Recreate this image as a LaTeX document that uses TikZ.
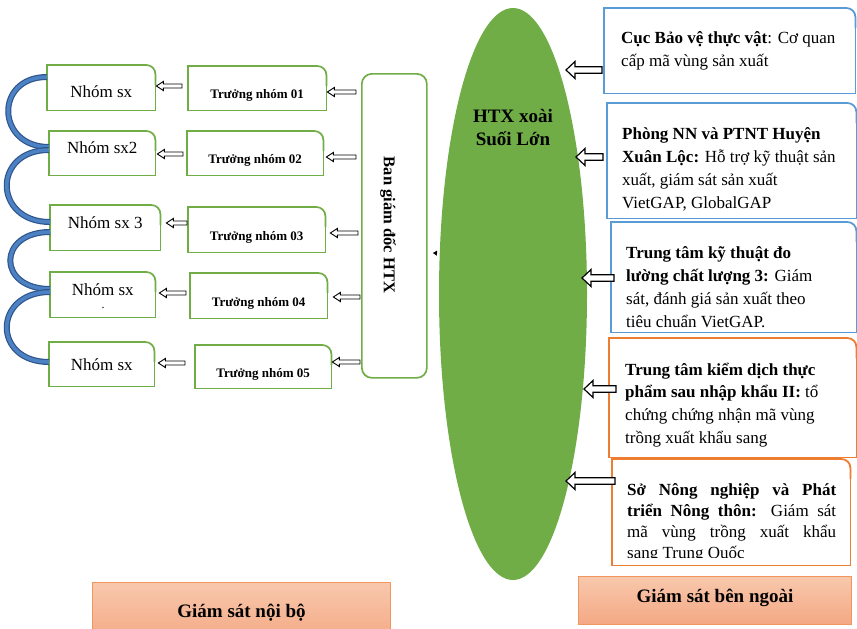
\documentclass[tikz,border=0pt]{standalone}
\usepackage{fontspec}
\setmainfont{Liberation Serif}
\usetikzlibrary{arrows.meta,shapes.geometric,calc}
\definecolor{grn}{RGB}{112,173,71}
\definecolor{blu}{RGB}{91,155,213}
\definecolor{org}{RGB}{237,125,49}
\definecolor{arcout}{RGB}{47,85,140}
\definecolor{arcin}{RGB}{76,130,195}
\definecolor{pkTop}{RGB}{248,200,172}
\definecolor{pkBot}{RGB}{244,168,132}
\definecolor{pkEdge}{RGB}{241,150,95}
\newcommand\cornerframe[2]{%
  \draw[#2, rounded corners=9pt] ([xshift=-20pt]#1.north east) -- (#1.north east) -- ([yshift=-20pt]#1.north east);
  \draw[#2, line join=miter] ([yshift=-14pt]#1.north east) -- (#1.south east) -- (#1.south west) -- (#1.north west) -- ([xshift=-14pt]#1.north east);
}
% hollow block arrow pointing left: #1 tail, #2 tip, #3 shaft half width, #4 head half width, #5 head length, #6 line width
\newcommand\hollowarrow[6]{%
  \draw[line width=#6, fill=white, line join=miter] let \p1=(#1), \p2=(#2) in
    (\x2,\y2) -- (\x2+#5,\y2+#4) -- (\x2+#5,\y2+#3) -- (\x1,\y2+#3) -- (\x1,\y2-#3)
    -- (\x2+#5,\y2-#3) -- (\x2+#5,\y2-#4) -- cycle;
}
\newcommand\smallarrow[2]{\hollowarrow{#1}{#2}{2pt}{4.6pt}{7pt}{0.9pt}}
\newcommand\bigarrow[2]{\hollowarrow{#1}{#2}{3.3pt}{8.5pt}{9pt}{1.2pt}}
\tikzset{
  box/.style={anchor=north west, inner sep=0pt, draw=none},
  nhom/.style={box, font=\fontsize{17}{20}\selectfont},
  truong/.style={box, font=\fontsize{13}{15}\selectfont\bfseries, text height=21pt, text depth=0pt},
  rtext/.style={anchor=north west, inner sep=0pt, align=left},
  linkarc/.style={draw=arcout, line width=1.2pt, double=arcin, double distance=3.6pt},
  gbox/.style={anchor=north west, draw=pkEdge, line width=1pt, top color=pkTop, bottom color=pkBot,
     font=\fontsize{19}{22}\selectfont\bfseries},
}
\begin{document}
\begin{tikzpicture}[x=1pt,y=-1pt]
\useasboundingbox (0,0) rectangle (857,629);

% ---------- Nhom boxes ----------
\node[nhom, minimum width=108pt, minimum height=45pt, text height=20pt, text depth=0pt] (n1) at (47,65) {Nhóm sx};
\node[nhom, minimum width=106pt, minimum height=44pt, text height=8pt, text depth=7pt] (n2) at (49,131) {Nhóm sx2};
\node[nhom, minimum width=110pt, minimum height=45pt, text height=8pt, text depth=6pt] (n3) at (50,205) {Nhóm sx 3};
\node[nhom, minimum width=105pt, minimum height=45pt, text height=8pt, text depth=6pt] (n4) at (50,272) {Nhóm sx};
\node[font=\fontsize{12}{12}\selectfont, inner sep=0pt, anchor=base] (n4dot) at (103,308) {.};
\node[nhom, minimum width=105pt, minimum height=44pt, text height=13pt, text depth=0pt] (n5) at (49,342) {Nhóm sx};
\foreach \n in {n1,n2,n3,n4,n5} {\cornerframe{\n}{draw=grn, line width=1.7pt}}

% ---------- Truong nhom boxes ----------
\node[truong, minimum width=138pt, minimum height=44pt] (t1) at (188,66) {Trưởng nhóm 01};
\node[truong, minimum width=136pt, minimum height=44pt] (t2) at (187,131) {Trưởng nhóm 02};
\node[truong, minimum width=137pt, minimum height=45pt] (t3) at (188,207) {Trưởng nhóm 03};
\node[truong, minimum width=137pt, minimum height=45pt] (t4) at (190,273) {Trưởng nhóm 04};
\node[truong, minimum width=136pt, minimum height=43pt] (t5) at (195,345) {Trưởng nhóm 05};
\foreach \n in {t1,t2,t3,t4,t5} {\cornerframe{\n}{draw=grn, line width=1.7pt}}

% ---------- Ban giam doc ----------
\node[box, draw=grn, line width=1.7pt, rounded corners=10pt, minimum width=65pt, minimum height=304pt] (ban) at (361,73) {};
\node[rotate=-90, font=\fontsize{16.5}{20}\selectfont\bfseries, inner sep=0pt] (bant) at (388,225) {Ban giám đốc HTX};

% ---------- links between groups ----------
\draw[linkarc] ([yshift=-12pt]n1.north west) .. controls +(-53,0) and +(-53,0) .. ([yshift=-16pt]n2.north west);
\draw[linkarc] ([yshift=-19pt]n2.north west) .. controls +(-57,0) and +(-57,0) .. ([yshift=-17pt]n3.north west);
\draw[linkarc] ([yshift=-27pt]n3.north west) .. controls +(-53,0) and +(-53,0) .. ([yshift=-17pt]n4.north west);
\draw[linkarc] ([yshift=-20pt]n4.north west) .. controls +(-57,0) and +(-57,0) .. ([yshift=-20pt]n5.north west);

% ---------- arrows truong -> nhom ----------
\smallarrow{$(t1.west |- 0,86)+(-6,0)$}{$(n1.east |- 0,86)+(1,0)$}
\smallarrow{$(t2.west |- 0,154)+(-4,0)$}{$(n2.east |- 0,154)+(2,0)$}
\smallarrow{$(t3.west |- 0,223)+(-1,0)$}{$(n3.east |- 0,223)+(6,0)$}
\smallarrow{$(t4.west |- 0,293)+(-4,0)$}{$(n4.east |- 0,293)+(4,0)$}
\smallarrow{$(t5.west |- 0,363)+(-10,0)$}{$(n5.east |- 0,363)+(4,0)$}

% ---------- arrows ban -> truong ----------
\smallarrow{$(ban.west |- 0,92)+(-5,0)$}{$(t1.east |- 0,92)+(1,0)$}
\smallarrow{$(ban.west |- 0,157)+(-5,0)$}{$(t2.east |- 0,157)+(3,0)$}
\smallarrow{$(ban.west |- 0,233)+(-3,0)$}{$(t3.east |- 0,233)+(5,0)$}
\smallarrow{$(ban.west |- 0,297)+(-1,0)$}{$(t4.east |- 0,297)+(6,0)$}
\smallarrow{$(ban.west |- 0,362)+(-1,0)$}{$(t5.east |- 0,362)+(1,0)$}

% ---------- HTX ellipse ----------
\node[ellipse, fill=grn, minimum width=148pt, minimum height=572pt, inner sep=0pt] (E) at (513,294) {};
\node[anchor=north, inner sep=0pt, align=center, font=\fontsize{19}{22.5}\selectfont\bfseries] (Et) at (513,106.75) {\strut HTX xoài\\Suối Lớn};
\coordinate (Etip) at (433,253);
\draw[line width=0.4pt, shorten <=3pt, -{Triangle[length=4pt,width=5pt]}] (E.151) -- (Etip);

% ---------- right boxes ----------
\node[box, minimum width=251pt, minimum height=85pt] (b1) at (604,8) {};
\node[box, minimum width=249pt, minimum height=115pt] (b2) at (607,103) {};
\node[box, minimum width=245pt, minimum height=110pt] (b3) at (611,222) {};
\node[box, minimum width=247pt, minimum height=119pt] (b4) at (609,338) {};
\node[box, minimum width=238pt, minimum height=106pt] (b5) at (612,459) {};
\foreach \n in {b1,b2,b3} {\cornerframe{\n}{draw=blu, line width=1.8pt}}
\foreach \n in {b4,b5} {\cornerframe{\n}{draw=org, line width=1.8pt}}

\node[rtext, font=\fontsize{17}{23}\selectfont] (b1t) at (621,26.9)
  {\strut\textbf{Cục Bảo vệ thực vật}: Cơ quan\\cấp mã vùng sản xuất};
\node[rtext, font=\fontsize{17}{23}\selectfont] (b2t) at (622,122.9)
  {\strut\textbf{Phòng NN và PTNT Huyện}\\\textbf{Xuân Lộc:} Hỗ trợ kỹ thuật sản\\xuất, giám sát sản xuất\\VietGAP, GlobalGAP};
\node[rtext, font=\fontsize{17}{23}\selectfont] (b3t) at (626,241.9)
  {\strut\textbf{Trung tâm kỹ thuật đo}\\\textbf{lường chất lượng 3:} Giám\\sát, đánh giá sản xuất theo\\tiêu chuẩn VietGAP.};
\node[rtext, font=\fontsize{17}{22.7}\selectfont] (b4t) at (625,359.1)
  {\strut\textbf{Trung tâm kiểm dịch thực}\\\textbf{phẩm sau nhập khẩu II:} tổ\\chứng chứng nhận mã vùng\\trồng xuất khẩu sang};
\begin{scope}
  \clip (b5.north west) rectangle ([yshift=7.5pt]b5.south east);
  \node[anchor=north west, inner sep=0pt, text width=209pt, align=justify, font=\fontsize{17}{21.2}\selectfont] (b5t) at (627,480.2)
    {\strut\textbf{Sở Nông nghiệp và Phát}\linebreak\textbf{triển Nông thôn:} Giám sát\linebreak mã vùng trồng xuất khẩu\linebreak sang Trung Quốc};
\end{scope}

% ---------- arrows right boxes -> HTX ----------
\coordinate (e1) at (566,70);
\coordinate (e2) at (576,157);
\coordinate (e3) at (582,278);
\coordinate (e4) at (584,389);
\coordinate (e5) at (566,481);
\bigarrow{$(b1.west |- e1)+(-2,0)$}{e1}
\bigarrow{$(b2.west |- e2)+(-4,0)$}{e2}
\bigarrow{$(b3.west |- e3)+(3,0)$}{e3}
\bigarrow{$(b4.west |- e4)+(7,0)$}{e4}
\bigarrow{$(b5.west |- e5)+(3,0)$}{e5}

% ---------- bottom labels ----------
\node[gbox, minimum width=298pt, minimum height=60pt] (g1) at (92,582) {Giám sát nội bộ};
\node[gbox, minimum width=273pt, minimum height=48pt, text height=10pt, text depth=7pt] (g2) at (578,576) {Giám sát bên ngoài};
\end{tikzpicture}
\end{document}
